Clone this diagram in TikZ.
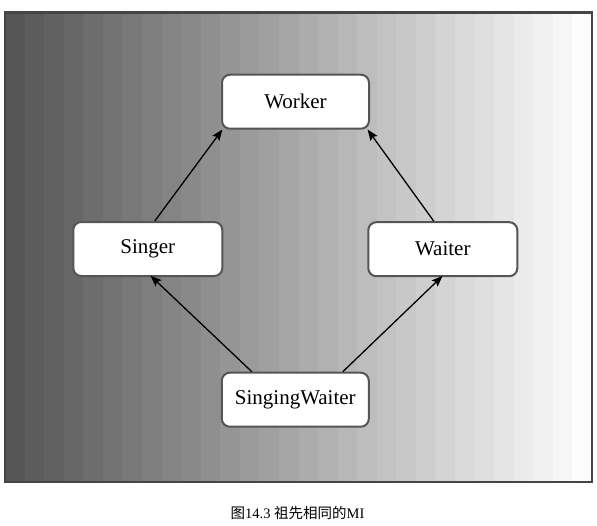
\documentclass[tikz,border=0pt]{standalone}
\usepackage{fontspec}
\setmainfont{Liberation Serif}
\newfontfamily\cjk{Noto Sans CJK SC}
\usetikzlibrary{arrows.meta,calc}
\definecolor{boxline}{HTML}{555555}
\definecolor{frameline}{HTML}{454545}
\tikzset{
  classbox/.style={draw=boxline, fill=white, line width=2pt, rounded corners=8pt,
    minimum width=147pt, minimum height=54pt, inner sep=0pt, font=\fontsize{21}{24}\selectfont},
  inherit/.style={line width=1.3pt, -{Stealth[length=11pt,width=8.5pt,inset=2pt]}}
}
\begin{document}
\begin{tikzpicture}[x=1pt,y=-1pt]
\useasboundingbox (0,0) rectangle (597,525);
% banded gradient background
\foreach \i in {0,...,29}{
  \pgfmathsetmacro{\xa}{5+\i*19.5667}
  \pgfmathsetmacro{\xb}{5+(\i+1)*19.5667+0.3}
  \pgfmathsetmacro{\p}{33.7+\i*2.2448}
  \fill[white!\p!black] (\xa,12.5) rectangle (\xb,482);
}
\draw[frameline, line width=2.5pt] (5,12.5) rectangle (592,482);
% nodes
\node[classbox] (worker) at (295.5,101.7) {Worker};
\node[classbox, minimum width=149pt] (singer) at (147.8,249) {Singer};
\node[classbox, minimum width=149pt] (waiter) at (442.8,249.2) {Waiter};
\node[classbox] (sw) at (295.3,399.7) {SingingWaiter};
% connectors
\draw[inherit, shorten >=1pt] ([xshift=7pt]singer.north) -- ([xshift=2pt,yshift=1pt]worker.south west);
\draw[inherit, shorten >=1pt] ([xshift=-9pt]waiter.north) -- ([xshift=-3pt,yshift=1pt]worker.south east);
\draw[inherit, shorten >=1pt] ([xshift=-43.5pt]sw.north) -- ([xshift=2pt,yshift=2pt]singer.south);
\draw[inherit, shorten >=1pt] ([xshift=47.5pt]sw.north) -- ([xshift=0.5pt,yshift=2pt]waiter.south);
% caption
\node[font=\fontsize{14.5}{16}\selectfont, inner sep=0pt] (caption) at (297.5,512.5) {{\cjk 图}14.3 {\cjk 祖先相同的}MI};
\end{tikzpicture}
\end{document}
